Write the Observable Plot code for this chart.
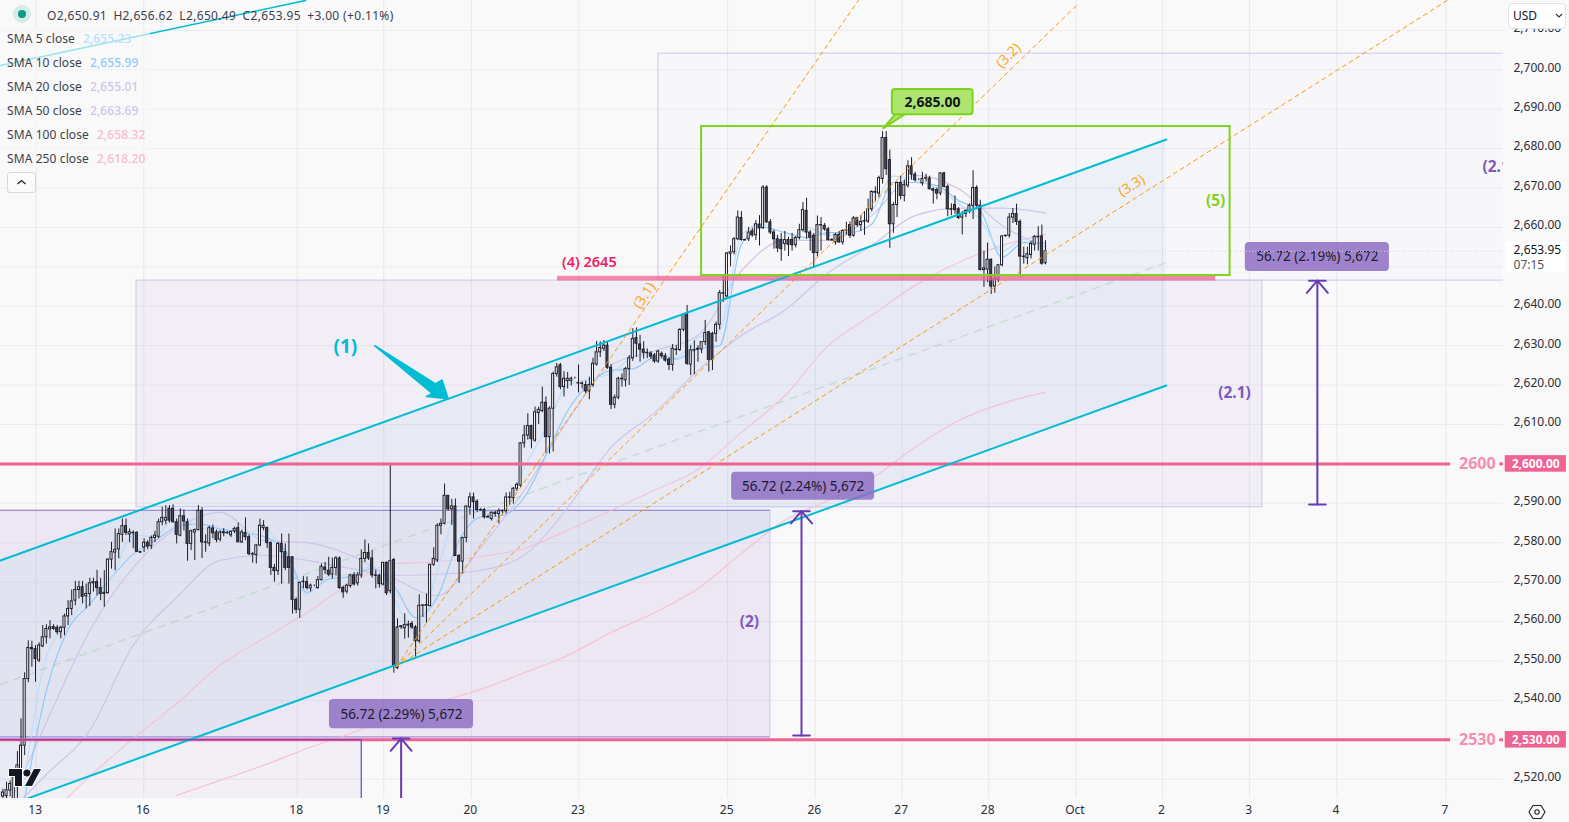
<!DOCTYPE html>
<html><head><meta charset="utf-8">
<script src="https://cdn.jsdelivr.net/npm/d3@7"></script>
<script src="https://cdn.jsdelivr.net/npm/@observablehq/plot@0.6"></script>
<style>
html,body{margin:0;padding:0;background:#f9f9f9;width:1569px;height:822px;overflow:hidden;font-family:"Noto Sans",sans-serif}
#wrap{position:relative;width:1569px;height:822px}
#wrap svg.plot{display:block}
.ov{position:absolute;white-space:nowrap;font-size:12px;color:#3b3f4a;line-height:16px}
</style></head><body><div id="wrap"></div>
<script>
// Candles, oldest first: [open, high, low, close]
const ohlc = [
[2515.6,2517.5,2515,2516.6],[2515.7,2519.2,2515,2517.2],[2517.1,2519.6,2515.5,2518.8],[2514,2522,2513,2520.5],[2519,2527,2515,2523.5],[2520.5,2535.3,2519,2528.5],[2528.5,2547,2526,2545.4],[2545.4,2555.1,2544.5,2553.3],[2553.3,2555,2548.4,2553],[2553,2553.9,2544.6,2550.5],
[2550.1,2554.6,2549.6,2553.9],[2553.7,2559,2553.4,2556],[2556,2559.2,2554.3,2558.1],[2558,2560.2,2555.6,2558.5],[2558.6,2559.2,2557.8,2558.1],[2558.4,2559,2556.6,2557.3],[2557.3,2558.8,2555.6,2558.4],[2558.4,2561.9,2556.4,2561.3],[2561.3,2565.3,2559,2563.2],[2563.2,2568,2561.5,2565.1],
[2565.3,2570.2,2564,2568],[2568,2570.2,2565.7,2568.7],[2568.7,2570.2,2564.5,2566.3],[2566.4,2569.5,2563.2,2567],[2567,2571,2563.8,2569.7],[2569.7,2571,2567.5,2570],[2570,2573,2566.5,2568.5],[2568.5,2571,2565.3,2567],[2567,2572.9,2563.6,2567.3],[2567.2,2575.9,2567,2575.7],
[2575.7,2580.1,2573.3,2577.6],[2577.5,2583.5,2572.9,2578.2],[2578.3,2583.5,2575.9,2582.2],[2582,2586,2580.1,2584.2],[2584.2,2586,2581.8,2582.5],[2582.1,2583.5,2580,2582.7],[2582.5,2583,2578.5,2582.4],[2582.5,2582.8,2577.5,2577.7],[2577.6,2577.8,2577.3,2577.5],[2578.8,2581,2577.5,2580],
[2580,2580.5,2578.2,2579],[2579.1,2581.7,2578.3,2581.2],[2581.2,2582.9,2580,2581.8],[2581.5,2586,2581,2585.2],[2585.2,2589,2584.3,2586.3],[2585.6,2589.4,2584.5,2586.3],[2588.6,2589.4,2585,2585.6],[2588.6,2589.6,2585,2585.2],[2585.2,2586,2579.7,2582],[2581.8,2588.6,2581.5,2586.7],
[2586.7,2588.3,2583,2585.4],[2585.2,2586,2575.3,2579.7],[2579.7,2583.2,2578,2582.9],[2582.6,2583.5,2575.5,2583.2],[2583.2,2589.4,2583,2588.1],[2588.1,2588.9,2576,2580.1],[2580.1,2582,2577.6,2580],[2579.8,2584.2,2579,2583.7],[2583.6,2584.5,2581,2582.4],[2582.6,2583.2,2580,2580.7],
[2580.8,2583,2580.2,2582.6],[2582.4,2583.6,2581.5,2582.7],[2582.5,2582.9,2582.2,2582.4],[2581.9,2583,2581.3,2582.7],[2582.9,2584,2582.3,2583.5],[2583.7,2585,2580,2580.1],[2580.1,2583.2,2579.8,2582.6],[2582.5,2586.3,2580.5,2581.4],[2581.4,2582,2576.7,2577.1],[2577.1,2577.5,2574.8,2577],
[2576.9,2579.5,2574.6,2579.3],[2579.3,2586,2579,2584.3],
[2583.7,2585.6,2583,2584.3],[2583.7,2584,2578.5,2579.9],[2579.9,2580.2,2571.7,2573.6],[2573.6,2574.5,2570,2572.8],[2572.8,2580.1,2571.7,2579.7],[2579.7,2582.2,2569.5,2577.6],[2577.6,2579.7,2572.9,2573.6],[2576.3,2582.2,2569.5,2573.6],[2576.3,2576.5,2561.9,2565.5],[2565.5,2566,2562,2563],
[2563,2570,2560.8,2569.8],[2570,2571.4,2568.3,2570.1],[2570,2571.3,2568,2568.5],[2568.4,2569.5,2567.5,2569.1],[2569,2569.3,2568.8,2569],[2568.5,2571.4,2568.2,2570.5],[2570.5,2574.6,2570.3,2573.9],[2573.7,2575,2572,2573.1],[2572.9,2576.3,2571.4,2571.9],[2571.9,2576.1,2570.8,2573.6],
[2573.6,2576.5,2571.6,2576],[2576,2576.4,2568.2,2568.5],[2568.5,2569,2565.9,2567.4],[2567.6,2569.5,2567,2569.1],[2569,2572,2568.5,2571.7],[2571.7,2572.4,2569,2569.4],[2569.7,2572.4,2569,2571.7],[2571.7,2578.2,2571,2575.9],[2575.9,2580.7,2575,2577.4],[2577.4,2579.7,2575.5,2576],
[2576,2578,2571,2571.7],[2571.7,2573,2568.3,2571.6],[2571.6,2572,2568.5,2569.5],[2569.4,2575,2569,2574.9],[2574.9,2575.1,2566.6,2567.2],[2567.7,2600,2567,2575.3],[2575.6,2576,2546.9,2548.8],[2548.2,2560.7,2547.8,2558.5],[2558.6,2559,2558,2558.8],[2558.3,2562,2555.5,2559.1],
[2559,2560.1,2555.8,2559.2],[2559.4,2560,2558,2558.5],[2558.5,2559,2551,2555],[2555,2566.8,2554.5,2564],[2564,2564.2,2561,2564.1],[2564,2567,2559.6,2564.2],[2563.9,2574.5,2563.8,2574.4],[2574.4,2578.7,2574,2575.9],[2575.5,2584.8,2575,2584.3],[2584.3,2586,2582,2584.8],
[2584.8,2594.9,2584.5,2591.9],[2591.9,2592,2588,2588.5],[2588.5,2591,2584.4,2589.2],[2589.2,2591.1,2576.6,2576.6],[2576.6,2577,2569.7,2575.2],[2575.2,2581.4,2572.1,2581.2],[2581.2,2589.3,2580,2589.2],[2589,2592.6,2587,2591.5],[2591.5,2592.6,2586,2590.3],[2590.4,2590.9,2587.7,2588.3],
[2588.3,2588.7,2588,2588.2],[2588.3,2588.7,2586,2586.5],[2586.5,2587,2586.3,2586.4],[2586,2587.8,2585.5,2587.6],[2587.3,2588,2586.5,2587.6],[2587.3,2588.6,2584.8,2588],[2588,2588.3,2587,2588.1],[2588,2592.6,2587.3,2591.5],[2591.5,2592.8,2589.5,2591.4],[2591.3,2594,2589.8,2593.7],
[2593.7,2595.2,2593,2594.7],[2594.5,2605.4,2594,2605.2],
[2605.2,2609.7,2604,2607.2],[2607.2,2612.7,2606,2609.6],[2609.6,2609.8,2603.8,2606.3],[2605.9,2614.4,2605.5,2613.1],[2612.9,2614.4,2610,2613.7],[2613.4,2619.5,2613,2615.5],[2615.5,2617,2602.7,2606.8],[2606.8,2614.5,2602.5,2614],[2614,2623.3,2603,2622.8],[2622.8,2625.5,2622,2624.5],
[2625,2625.5,2618.8,2619.5],[2619.5,2623.4,2617,2621.6],[2621,2623.2,2619,2621.6],[2621,2622,2619.8,2621.6],[2621.8,2622,2621.5,2621.8],[2620.5,2625.1,2618,2620.4],[2620.4,2620.8,2619,2620.3],[2620,2621,2617.8,2618.4],[2618.4,2622,2616.3,2620],[2620,2626.8,2619.4,2625.4],
[2625.2,2631.1,2624.8,2628.3],[2628.3,2631,2627,2629.4],[2629.2,2631.3,2628.5,2630],[2630,2631,2624,2624.4],[2624.4,2625.2,2613.8,2615],[2615,2617.5,2614,2616.8],[2616.8,2622,2616.3,2621.6],[2621.6,2622.8,2619.5,2621.5],[2621.2,2624.5,2619.5,2624.1],[2624.1,2627.5,2619.9,2626.8],
[2626.8,2634.3,2626,2631.7],[2631.9,2634.5,2627,2630.5],[2630.3,2632.6,2625.8,2629],[2629,2631,2626.6,2628.2],[2628.2,2629.2,2626.7,2628.1],[2628,2628.5,2626.5,2627.2],[2627.5,2628,2625.5,2626],[2626,2628.8,2625.5,2628.5],[2627.9,2628.4,2626.8,2627.3],[2627.3,2628,2625.8,2626.2],
[2626.4,2627,2623.7,2625.1],[2625.1,2630.3,2623.5,2629.2],[2629,2630,2627.5,2628.9],[2628.9,2634.3,2628.5,2634],[2634,2637.8,2633.5,2637.8],[2638,2640.2,2625,2625.4],[2625.2,2630,2622.4,2628.8],[2628.9,2631.2,2622.6,2628.8],[2629,2630,2625.8,2629.2],[2629,2631,2628,2630.9],
[2630.9,2636.4,2630,2633.2],[2633.4,2633.6,2623.3,2626.4],[2633,2633.4,2623.7,2626.4],[2633,2636,2630.9,2635.3],[2635.3,2644,2634,2643.3],[2643.3,2648,2641,2643.2],
[2642.5,2653.6,2642,2653.4],[2653.3,2655.3,2650,2653.7],[2653.7,2657.4,2653,2657],[2657,2664.2,2656.7,2662.5],[2662.4,2664,2656.5,2656.8],[2656.8,2657,2656.6,2656.7],[2657,2660,2656.4,2658.7],[2659,2659.8,2657.5,2658],[2658,2661.7,2656.7,2660.8],[2660.7,2663,2655.3,2659.8],
[2659.8,2670.6,2659.5,2670.1],[2670.1,2670.6,2661,2661.3],[2661.3,2662,2658.2,2658.7],[2658.7,2659.3,2654.5,2657],[2657,2658,2653.6,2654.7],[2656.8,2658.5,2651.4,2654.5],[2655.8,2659,2654,2656.8],[2656.8,2657.5,2652.6,2655.6],[2656.8,2658.5,2654,2655.5],[2655.5,2657.7,2654.8,2657.3],
[2657.3,2660.8,2656.8,2659.3],[2659.3,2666.3,2658.8,2664.4],[2664.2,2667.4,2657,2658.7],[2658.7,2659.2,2654,2657.4],[2657.9,2658.5,2649.7,2653.5],[2653.5,2662.9,2652.5,2660.6],[2660.6,2662.5,2654,2660.5],[2660.4,2661,2659,2659.5],[2659.5,2660,2656.5,2656.8],[2656.8,2657.2,2656.5,2656.7],
[2656.2,2658.5,2655.5,2658.1],[2658.1,2659,2656,2656.2],[2656.2,2659.4,2655.5,2659.1],[2659.2,2661.3,2658,2659.3],[2660.6,2661.4,2657.2,2657.9],[2657.9,2662.8,2657.5,2662.3],[2662.3,2662.6,2660,2660.6],[2660.6,2663,2659,2661.4],[2661.5,2664,2658,2661.6],[2661.5,2667.2,2661,2664.6],
[2664.6,2669.3,2664,2669],[2669,2670.3,2666.5,2668.8],[2668.6,2673,2667.5,2672.5],[2672.3,2684.3,2671,2682.7],[2682.7,2684.3,2673.2,2674.8],[2677.1,2679.6,2654.7,2660.8],[2660.8,2666.3,2658.5,2665.7],[2665.7,2671.5,2662.5,2671.3],[2671.3,2673,2667,2668],[2668,2672,2666.5,2670.8],
[2670.6,2676.9,2670,2675.5],[2675.5,2677.7,2672,2673.4],[2673.4,2674,2671.5,2672],[2672.1,2672.4,2671.9,2672.1],[2671.2,2674,2670.5,2672.3],[2672.4,2673.5,2671.5,2672.5],[2672.4,2673,2669.5,2669.7],[2669.7,2670,2665.9,2669.3],[2669.5,2670,2667,2668.6],[2668.6,2673.9,2668,2673.7],
[2673.7,2674,2670,2670.3],[2670.3,2670.8,2662.7,2664.6],[2664.6,2666,2663,2664.5],[2665.7,2668,2663.3,2664.4],[2664.6,2665,2662,2662.4],[2662.5,2664,2658.1,2663.4],[2663.4,2664.5,2662.5,2664.2],[2664,2666,2663.5,2665.5],[2665.5,2674.4,2662,2670],[2670,2670.6,2665,2665.5],
[2665.5,2666.9,2649,2649.2],[2649.2,2654,2644.8,2649.6],[2649.3,2656,2646,2651.8],[2651.8,2652,2643,2645],[2645,2650,2643.3,2646.9],[2646.7,2650.5,2646,2650.4],[2650.4,2657.9,2650,2657.7],[2657.8,2658,2657.5,2657.9],[2657.9,2663.5,2657.3,2662.5],[2662.5,2664.8,2661,2663.4],
[2663.4,2665.9,2660.5,2661.4],[2661.4,2661.9,2647.3,2652.6],[2652.6,2655,2650.7,2652.5],[2652.2,2655,2650.5,2653.2],[2653,2656.5,2652,2655.8],[2655.6,2658,2654,2657.6],[2657.6,2660.2,2654,2657.5],[2657.7,2660.6,2650.4,2650.8],[2650.91,2656.62,2650.49,2653.95]
];
// Moving averages: [first candle index, step, values]
const sma5Values = [2520,2551,2559.5,2567,2571,2582,2581.5,2587,2584,2583,2581.5,2584,2576,2567,2571.5,2572,2574,2566,2557,2573,2588,2588,2587.5,2599,2609,2620,2621.5,2623,2627,2628,2627,2632,2634,2658,2661,2656,2660,2658,2659,2664,2673,2672,2670,2666,2662,2654,2657,2655.23];
const sma10Values = [2515,2542.4,2558,2564.4,2571.2,2577.1,2580.5,2584,2584.8,2583.5,2582.6,2581.6,2578,2567.4,2570.8,2571.4,2573.4,2569.1,2561,2566.2,2580.5,2586.5,2586.9,2591.5,2602.1,2613.5,2620.3,2623.7,2624.1,2626.9,2626.6,2629.2,2630,2655.7,2660,2658.7,2657.4,2658.7,2658.7,2660.8,2671.4,2671.4,2670.6,2666.8,2664.2,2652.4,2656.2,2655.99];
const sma20Values = [2510,2534.4,2557.7,2573.7,2583.6,2587.7,2580.6,2580,2576.8,2571,2566.6,2578.8,2593.3,2611,2625,2628.7,2632.6,2649,2656.7,2656.7,2663,2673.2,2669.8,2660.5,2655.01];
const sma50Values = [2510,2521.2,2532.4,2554,2566.1,2575.5,2576.8,2575.5,2573.5,2571.7,2572,2573,2576.8,2588.9,2604.2,2613,2623.7,2632.6,2639,2648.5,2655.4,2663,2664.9,2664.9,2663.69];
const sma100Values = [2510,2520.7,2530.3,2539.2,2548.9,2555.7,2562.3,2569.7,2574.7,2575.2,2576.5,2578.5,2583.2,2588.2,2593.3,2598.6,2608,2617.3,2630,2637.7,2645.3,2651.1,2655.4,2658.32];
const sma250Values = [2515.9,2519.7,2523.5,2527.8,2531.6,2535.9,2539.5,2542.8,2547,2551.4,2557.2,2562.3,2568.4,2577.3,2585.7,2590.7,2596.3,2604.2,2611,2615.3,2618.2];

// Axis labels, with time measured in bars from the latest candle
const yGrid = [2520,2530,2540,2550,2560,2570,2580,2590,2600,2610,2620,2630,2640,2650,2660,2670,2680,2690,2700,2710];
const yTickLabels = [2520,2540,2550,2560,2570,2580,2590,2610,2620,2630,2640,2660,2670,2680,2690,2700,2710];
const dayLabels = ["13","16","18","19","20","23","25","26","27","28","Oct","2","3","4","7"];
const dayBars = [-278.8,-249.1,-206.7,-182.8,-158.6,-128.9,-87.8,-63.6,-39.6,-15.7,8.4,32.3,56.4,80.5,110.6];

// Drawings, in bars-from-latest and price
const channelUpper = [[-288.67,2575.5],[33.4,2682.3]];
const channelLower = [[-288.67,2512.6],[33.4,2619.9]];
const channelMid = [[-288.67,2544],[33.4,2651.1]];
const upperLeftLine = [[-288.67,2701.1],[-204.4,2717.6]];
const fibLines = [
  [[-179.3,2548.6],[-51.7,2717.6]],
  [[-179.3,2548.6],[9.1,2716.8]],
  [[-179.3,2548.6],[111,2717.6]]
];
const zones = [
  {x1:-300,x2:-189,y1:2505,y2:2530,o:0.07},
  {x1:-300,x2:-76,y1:2530.7,y2:2588.2,o:0.13},
  {x1:-251.1,x2:59.9,y1:2589,y2:2646.5,o:0.08},
  {x1:-106.9,x2:130,y1:2646.5,y2:2704.1,o:0.025}
];
const measures = [
  {x:-178,from:2505,to:2530.3,tick:2.3,head:3.1,wing:2.9,text:"56.72 (2.29%) 5,672",bx1:-197.8,bx2:-158,by1:2532.8,by2:2540.2,ty:2536.4,base:false},
  {x:-67.4,from:2531.1,to:2588,tick:2.3,head:3.1,wing:2.9,text:"56.72 (2.24%) 5,672",bx1:-86.7,bx2:-47.2,by1:2590.8,by2:2597.9,ty:2594.3,base:true},
  {x:75.1,from:2589.7,to:2646.5,tick:2.3,head:3.1,wing:2.9,text:"56.72 (2.19%) 5,672",bx1:55.2,bx2:95,by1:2648.8,by2:2656.2,ty:2652.5,base:true}
];
const levels = [2600,2530];
const arrowOne = [[-185.3,2630],[-168.5,2620.3],[-166.7,2621.3],[-165,2616.5],[-171,2617.1],[-169.4,2617.9]];
const calloutTail = [[-44.8,2685.2],[-41.4,2688.8],[-38.7,2688.8]];
const notes = [
  {x:-193.4,y:2629.8,t:"(1)",c:"#00bcd4",s:19,w:700},
  {x:-81.8,y:2559.8,t:"(2)",c:"#7e57c2",s:15.5,w:700},
  {x:52.2,y:2617.9,t:"(2.1)",c:"#7e57c2",s:15.5,w:700},
  {x:47,y:2666.6,t:"(5)",c:"#7ed321",s:15.5,w:700},
  {x:-126,y:2651.1,t:"(4) 2645",c:"#e91e63",s:14.5,w:600}
];
const fibNotes = [
  {x:-110.8,y:2642.7,t:"(3.1)",r:-57},
  {x:-10.2,y:2703.6,t:"(3.2)",r:-45},
  {x:23.8,y:2670.6,t:"(3.3)",r:-32}
];

const N = ohlc.length;
const candles = ohlc.map(([o,h,l,c],i)=>({t:i-(N-1),o,h,l,c,up:c>=o}));
const series = (vals,start,step)=>vals.map((v,k)=>({t:start+k*step-288,v}));
const pts = a=>a.map(([x,y])=>({x,y}));
const smaLine = (vals,start,step,color,op=1)=>Plot.line(series(vals,start,step),{x:"t",y:"v",stroke:color,strokeOpacity:op,strokeWidth:1.2,curve:"monotone-x",clip:true});
const lineOf = (a,o)=>Plot.line(pts(a),{x:"x",y:"y",clip:true,...o});

const PINK="#f06292", CYAN="#00bcd4", PURPLE="#673ab7", GREEN="#7ed321", ORANGE="#ffa726";
const seg = measures.flatMap((m,i)=>{
  const s=[{k:i+"s",x:m.x,y:m.from},{k:i+"s",x:m.x,y:m.to},
           {k:i+"h",x:m.x-m.wing,y:m.to-m.head},{k:i+"h",x:m.x,y:m.to},{k:i+"h",x:m.x+m.wing,y:m.to-m.head},
           {k:i+"t",x:m.x-m.tick,y:m.to},{k:i+"t",x:m.x+m.tick,y:m.to}];
  if(m.base) s.push({k:i+"b",x:m.x-m.tick,y:m.from},{k:i+"b",x:m.x+m.tick,y:m.from});
  return s;
});

const chart = Plot.plot({
  width:1569,height:822,marginTop:0,marginLeft:0,marginRight:66,marginBottom:24,
  style:{background:"#f9f9f9",fontFamily:"'Noto Sans',sans-serif",overflow:"visible"},
  x:{domain:[-288.67,126.52],axis:null},
  y:{domain:[2515.1,2717.58],axis:null},
  marks:[
    Plot.ruleY(yGrid,{stroke:"#ebebef",clip:true}),
    Plot.ruleX(dayBars,{stroke:"#e9e9ee",clip:true}),
    // zones
    ...zones.map(z=>Plot.rect([z],{x1:"x1",x2:"x2",y1:"y1",y2:"y2",fill:"#9a72cc",fillOpacity:z.o,stroke:"#cfc6ec",strokeWidth:1,clip:true})),
    Plot.ruleY([2588.2,2530.7],{x1:-300,x2:-76,stroke:"#a184d8",clip:true}),
    // channel fill
    Plot.areaY([{x:-288.67,a:2512.6,b:2575.5},{x:33.4,a:2619.9,b:2682.3}],{x:"x",y1:"a",y2:"b",fill:"#2196f3",fillOpacity:0.045,clip:true}),
    // averages
    smaLine(sma250Values,48,12,"#f8bbd0",0.85),
    smaLine(sma100Values,12,12,"#f8bbd0",0.8),
    smaLine(sma50Values,0,12,"#d1c4e9"),
    smaLine(sma20Values,0,12,"#d1c4e9"),
    smaLine(sma10Values,6,6,"#90caf9"),
    smaLine(sma5Values,6,6,"#bbdefb"),
    lineOf(channelMid,{stroke:"#81c784",strokeOpacity:0.32,strokeDasharray:"7,7"}),
    // candles
    Plot.ruleX(candles,{x:"t",y1:"l",y2:"h",stroke:"#1c1c28",strokeWidth:1,clip:true}),
    Plot.rect(candles,{x1:d=>d.t-0.28,x2:d=>d.t+0.28,y1:"o",y2:"c",fill:d=>d.up?"#ffffff":"#4b4c5c",stroke:"#1c1c28",strokeWidth:1,clip:true}),
    // levels
    Plot.ruleY(levels,{x1:-288.67,x2:111.9,stroke:PINK,strokeWidth:3}),
    Plot.ruleY(levels,{x1:125.5,x2:126.52,stroke:PINK,strokeWidth:3}),
    Plot.text(levels,{x:119.3,y:d=>d,text:d=>String(d),fill:"#f48fb1",fontSize:16,fontWeight:700}),
    // 2645 band
    Plot.rect([{x1:-134.8,x2:47,y1:2646.4,y2:2647.6}],{x1:"x1",x2:"x2",y1:"y1",y2:"y2",fill:PINK,fillOpacity:0.75}),
    // channel
    Plot.line(pts(channelUpper),{x:"x",y:"y",stroke:CYAN,strokeWidth:2,clip:true}),
    Plot.line(pts(channelLower),{x:"x",y:"y",stroke:CYAN,strokeWidth:2,clip:true}),
    lineOf(upperLeftLine,{stroke:CYAN,strokeWidth:1.5}),
    ...fibLines.map(a=>lineOf(a,{stroke:"#ff9800",strokeWidth:1,strokeDasharray:"4,4"})),
    Plot.text(fibNotes,{x:"x",y:"y",text:"t",rotate:"r",fill:ORANGE,fontSize:14,clip:true}),
    Plot.line(pts(arrowOne),{x:"x",y:"y",fill:CYAN,stroke:CYAN,curve:"linear-closed"}),
    // target box and callout
    Plot.rect([{x1:-95,x2:51,y1:2647.8,y2:2685.6}],{x1:"x1",x2:"x2",y1:"y1",y2:"y2",fill:"none",stroke:GREEN,strokeWidth:2}),
    Plot.line(pts(calloutTail),{x:"x",y:"y",fill:"#aee571",stroke:GREEN,strokeWidth:2,curve:"linear-closed"}),
    Plot.rect([{x1:-42.3,x2:-20,y1:2688.6,y2:2695}],{x1:"x1",x2:"x2",y1:"y1",y2:"y2",fill:"#aee571",stroke:GREEN,strokeWidth:2,rx:3}),
    Plot.text(["2,685.00"],{x:-31.2,y:2691.8,text:d=>d,fill:"#131722",fontSize:14,fontWeight:700}),
    // measures
    Plot.line(seg,{x:"x",y:"y",z:"k",stroke:PURPLE,strokeWidth:2,clip:true}),
    Plot.rect(measures,{x1:"bx1",x2:"bx2",y1:"by1",y2:"by2",fill:"#8e6fc4",fillOpacity:0.85,rx:4}),
    Plot.text(measures,{x:d=>(d.bx1+d.bx2)/2,y:"ty",text:"text",fill:"#1f1b2e",fontSize:13.5}),
    Plot.line([{x:-300,y:2530},{x:-189,y:2530},{x:-189,y:2505}],{x:"x",y:"y",stroke:"#5e3fb8",strokeWidth:1,clip:true}),
    // notes
    ...notes.map(n=>Plot.text([n],{x:"x",y:"y",text:"t",fill:n.c,fontSize:n.s,fontWeight:n.w})),
    Plot.text(["(2.1)"],{x:120.7,y:2675.2,text:d=>d,textAnchor:"start",fill:"#7e57c2",fontSize:15.5,fontWeight:700,clip:true}),
    // dotted last price
    Plot.ruleY([2653.95],{x1:0,x2:126.52,stroke:"#d4d4d8",strokeDasharray:"1,2"}),
    // axes
    Plot.axisY(yTickLabels,{anchor:"right",tickSize:0,tickPadding:10,tickFormat:d3.format(",.2f"),fontSize:12,color:"#2a2e39",label:null,dy:-2}),
    Plot.axisX(dayBars,{anchor:"bottom",tickSize:0,tickPadding:7,tickFormat:d=>dayLabels[dayBars.indexOf(d)],fontSize:12,color:"#2a2e39",label:null,dx:-1}),
    // price tags on the axis
    Plot.rect(levels,{x1:127,x2:143.9,y1:d=>d-2.1,y2:d=>d+2.1,fill:PINK}),
    Plot.text(levels,{x:135.4,y:d=>d,text:d=>d3.format(",.2f")(d),fill:"#fff",fontSize:12,fontWeight:700}),
    Plot.rect([{a:2648.6,b:2656.3}],{x1:127,x2:143.9,y1:"a",y2:"b",fill:"#ffffff"}),
    Plot.text(["2,653.95"],{x:129.3,y:2654.2,text:d=>d,textAnchor:"start",fill:"#131722",fontSize:12}),
    Plot.text(["07:15"],{x:129.3,y:2650.5,text:d=>d,textAnchor:"start",fill:"#50535e",fontSize:12})
  ]
});
chart.classList.add("plot");
const wrap=document.getElementById("wrap");
wrap.appendChild(chart);

// Header, legend and chart furniture
const legendRows=[["SMA 5 close","2,655.23","#bbdefb"],["SMA 10 close","2,655.99","#90caf9"],["SMA 20 close","2,655.01","#d1c4e9"],["SMA 50 close","2,663.69","#d1c4e9"],["SMA 100 close","2,658.32","#f8bbd0"],["SMA 250 close","2,618.20","#f8bbd0"]];
const headerText="O2,650.91\u2002H2,656.62\u2002L2,650.49\u2002C2,653.95\u2002+3.00 (+0.11%)";
let html=`<div class="ov" style="left:47px;top:8px;letter-spacing:.34px">${headerText}</div>
<svg class="ov" style="left:13px;top:5px" width="18" height="18"><circle cx="9" cy="9" r="9" fill="#089981" opacity=".14"/><circle cx="9" cy="9" r="4" fill="#089981"/></svg>
<div class="ov" style="left:0;top:28px;width:150px;height:140px;background:rgba(249,249,249,.62)"></div>`;
legendRows.forEach((r,i)=>{html+=`<div class="ov" style="left:7px;top:${31+24*i}px;letter-spacing:.1px">${r[0]}<span style="color:${r[2]};margin-left:8px;font-weight:500">${r[1]}</span></div>`;});
html+=`<div class="ov" style="left:7px;top:172px;width:27px;height:19px;border:1px solid #d6d6de;border-radius:3px;background:#fbfbfb"><svg width="27" height="19"><path d="M9.5 11 L13.5 7.5 L17.5 11" fill="none" stroke="#222" stroke-width="1.3"/></svg></div>
<div class="ov" style="left:1508px;top:3px;width:56px;height:24px;background:#fff;border:1px solid #e0e3eb;border-radius:4px;line-height:24px;color:#131722;font-size:12px"><span style="margin-left:4px">USD</span><svg style="position:absolute;left:46px;top:9px" width="8" height="6"><path d="M1 1 L4 4 L7 1" fill="none" stroke="#333" stroke-width="1.1"/></svg></div>
<svg class="ov" style="left:1528px;top:803px" width="18" height="18"><path d="M5 2.5 H13 L17 9 L13 15.5 H5 L1 9 Z" fill="none" stroke="#222" stroke-width="1.1"/><circle cx="9" cy="9" r="2.2" fill="none" stroke="#222" stroke-width="1.1"/></svg>
<svg class="ov" style="left:7px;top:767px" width="36" height="21"><g fill="#131722" stroke="#fff" stroke-width="2" paint-order="stroke"><path d="M2 2 H15 V19 H8 V9 H2 Z"/><circle cx="20" cy="6" r="3.6"/><path d="M27 2 H34 L25 19 H18 Z"/></g></svg>`;
const ov=document.createElement("div");ov.innerHTML=html;wrap.appendChild(ov);
</script></body></html>
